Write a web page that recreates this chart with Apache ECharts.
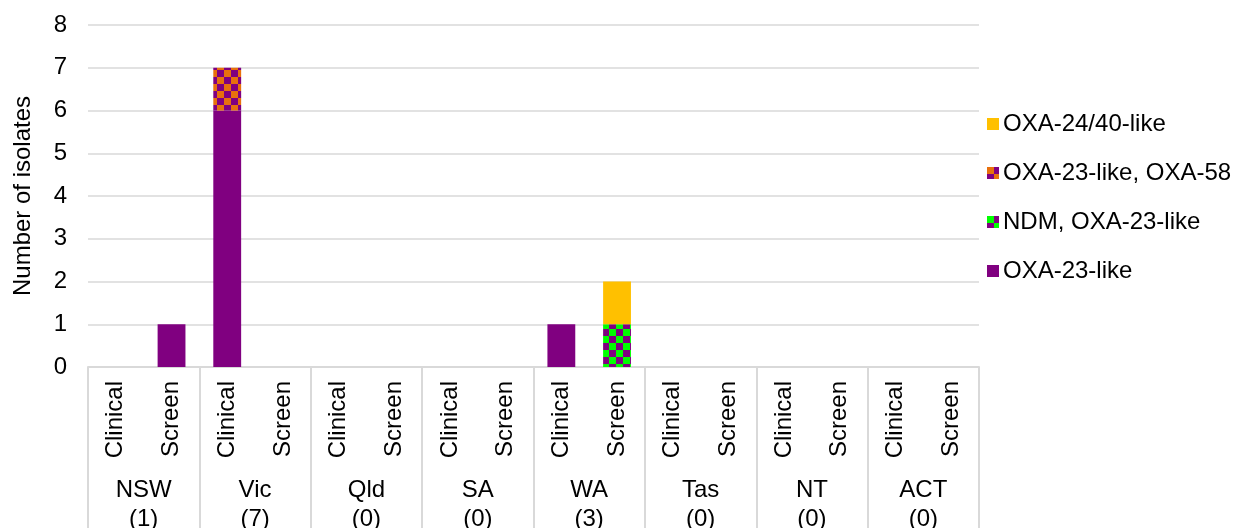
<!DOCTYPE html>
<html>
<head>
<meta charset="utf-8">
<style>
  html, body { margin: 0; padding: 0; background: #ffffff; }
  #chart { width: 1233px; height: 528px; }
</style>
<script src="https://cdn.jsdelivr.net/npm/echarts@6/dist/echarts.min.js"></script>
</head>
<body>
<div id="chart"></div>
<script>
// States with isolate totals, and the two specimen types per state
const states = ['NSW\n(1)', 'Vic\n(7)', 'Qld\n(0)', 'SA\n(0)', 'WA\n(3)', 'Tas\n(0)', 'NT\n(0)', 'ACT\n(0)'];
const specimenTypes = ['Clinical', 'Screen'];
const categories = [];
states.forEach(() => specimenTypes.forEach(t => categories.push(t)));

const yTicks = [0, 1, 2, 3, 4, 5, 6, 7, 8];

// Isolate counts per category (NSW Clinical, NSW Screen, Vic Clinical, ...)
const oxa23 =       [0, 1, 6, 0, 0, 0, 0, 0, 1, 0, 0, 0, 0, 0, 0, 0];
const ndmOxa23 =    [0, 0, 0, 0, 0, 0, 0, 0, 0, 1, 0, 0, 0, 0, 0, 0];
const oxa23Oxa58 =  [0, 0, 1, 0, 0, 0, 0, 0, 0, 0, 0, 0, 0, 0, 0, 0];
const oxa2440 =     [0, 0, 0, 0, 0, 0, 0, 0, 0, 1, 0, 0, 0, 0, 0, 0];

// Checkerboard fill for combined genotypes
function checker(c1, c2, cell) {
  const cv = document.createElement('canvas');
  cv.width = cell * 2; cv.height = cell * 2;
  const ctx = cv.getContext('2d');
  ctx.fillStyle = c1; ctx.fillRect(0, 0, cell * 2, cell * 2);
  ctx.fillStyle = c2;
  ctx.fillRect(0, 0, cell, cell);
  ctx.fillRect(cell, cell, cell, cell);
  return { image: cv, repeat: 'repeat' };
}

const PURPLE = '#800080';
const FONT = 'Liberation Sans, Arial, sans-serif';
const FS = 24;
const GRID_C = '#d9d9d9';

const chart = echarts.init(document.getElementById('chart'), null, { renderer: 'canvas' });

function bar(name, data, color) {
  return {
    name, type: 'bar', stack: 'total', data,
    barWidth: '50%',
    itemStyle: { color },
    emphasis: { disabled: true }
  };
}

chart.setOption({
  animation: false,
  backgroundColor: '#ffffff',
  textStyle: { fontFamily: FONT },
  grid: { left: 88, right: 254, top: 25, bottom: 161, containLabel: false, outerBoundsMode: 'none' },
  legend: {
    orient: 'vertical',
    left: 987,
    top: 112,
    padding: 0,
    itemWidth: 12,
    itemHeight: 12,
    itemGap: 25,
    icon: 'rect',
    textStyle: { fontSize: FS, color: '#000', fontFamily: FONT, padding: [0, 0, 0, -1] },
    data: ['OXA-24/40-like', 'OXA-23-like, OXA-58', 'NDM, OXA-23-like', 'OXA-23-like']
  },
  xAxis: [
    {
      type: 'category',
      data: categories,
      position: 'bottom',
      axisLine: { show: true, lineStyle: { color: GRID_C, width: 2 } },
      axisTick: { show: false },
      axisLabel: {
        interval: 0, rotate: 90, margin: 14,
        fontSize: FS, color: '#000', fontFamily: FONT
      }
    },
    {
      type: 'category',
      data: states,
      position: 'bottom',
      axisLine: { show: false },
      axisTick: { show: true, length: 165, lineStyle: { color: GRID_C, width: 2 } },
      axisLabel: {
        interval: 0, margin: 109, lineHeight: 29,
        fontSize: FS, color: '#000', fontFamily: FONT
      }
    }
  ],
  yAxis: {
    type: 'value',
    min: yTicks[0], max: yTicks[yTicks.length - 1], interval: 1,
    name: 'Number of isolates',
    nameLocation: 'middle',
    nameGap: 53,
    nameTextStyle: { fontSize: FS, color: '#000', fontFamily: FONT },
    axisLine: { show: false },
    axisTick: { show: false },
    axisLabel: { fontSize: FS, color: '#000', margin: 21, fontFamily: FONT },
    splitLine: { lineStyle: { color: GRID_C, width: 1.5 } }
  },
  series: [
    bar('OXA-23-like', oxa23, PURPLE),
    bar('NDM, OXA-23-like', ndmOxa23, checker(PURPLE, '#00ff00', 7)),
    bar('OXA-23-like, OXA-58', oxa23Oxa58, checker(PURPLE, '#e8700d', 7)),
    bar('OXA-24/40-like', oxa2440, '#ffc000')
  ]
});
</script>
</body>
</html>
